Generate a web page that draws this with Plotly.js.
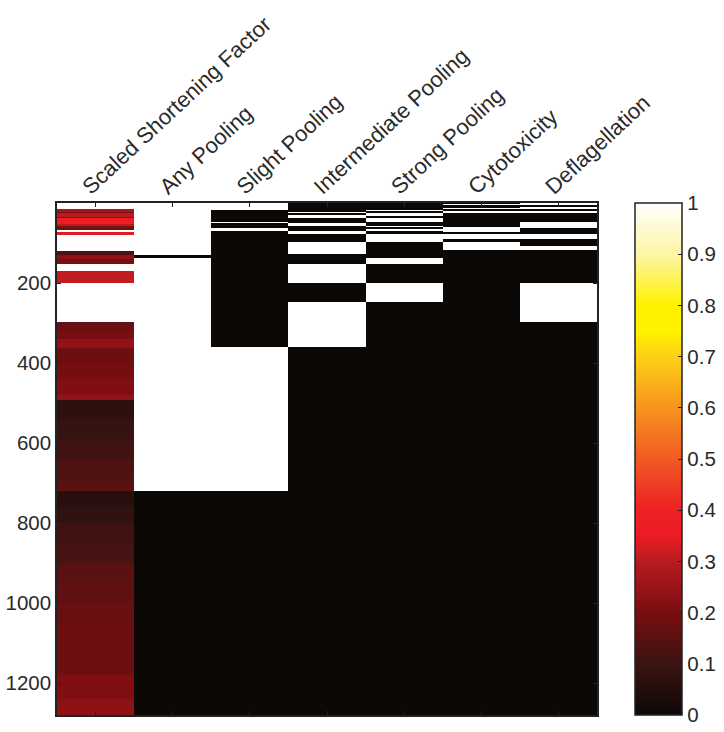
<!DOCTYPE html>
<html>
<head>
<meta charset="utf-8">
<script src="https://cdn.plot.ly/plotly-3.0.1.min.js"></script>
<style>body{margin:0;background:#fff}</style>
</head>
<body>
<div id="plot" style="width:724px;height:732px"></div>
<script>
var columnNames = ["Scaled Shortening Factor", "Any Pooling", "Slight Pooling", "Intermediate Pooling", "Strong Pooling", "Cytotoxicity", "Deflagellation"];
var rowTicks = [200, 400, 600, 800, 1000, 1200];
var barTicks = [0, 0.1, 0.2, 0.3, 0.4, 0.5, 0.6, 0.7, 0.8, 0.9, 1];
var rowCount = 1280;

// each column: where a band ends (row number) and the value of that band
var scaledEnds = [15, 23, 26, 34, 38, 47, 52, 58, 68, 72, 79, 119, 129, 140, 152, 170, 199, 298, 320, 340, 362, 400, 440, 480, 492, 540, 590, 640, 690, 719, 760, 800, 850, 900, 950, 1000, 1060, 1120, 1180, 1240, 1280];
var scaledVals = [1, 0.27, 0.2, 0.3, 0.22, 0.36, 0.38, 0.3, 0.2, 1, 0.34, 1, 0.13, 0.23, 0.2, 1, 0.31, 1, 0.17, 0.2, 0.24, 0.18, 0.19, 0.21, 0.24, 0.07, 0.09, 0.11, 0.13, 0.15, 0.06, 0.08, 0.11, 0.12, 0.15, 0.16, 0.17, 0.18, 0.18, 0.21, 0.23];
var anyEnds = [129, 138, 720, 1280];
var anyVals = [1, 0, 1, 0];
var slightEnds = [17, 47, 50, 62, 69, 360, 720, 1280];
var slightVals = [1, 0, 1, 0, 1, 0, 1, 0];
var intermediateEnds = [22, 24, 30, 38, 51, 58, 69, 78, 98, 128, 152, 200, 247, 360, 1280];
var intermediateVals = [0, 1, 0, 1, 0, 1, 0, 1, 0, 1, 0, 1, 0, 1, 0];
var strongEnds = [18, 19, 20, 21, 22, 23, 24, 25, 26, 32, 38, 48, 58, 61, 66, 69, 78, 98, 138, 152, 200, 247, 1280];
var strongVals = [0, 1, 0, 1, 0, 1, 0, 1, 0, 1, 0, 1, 0, 1, 0, 1, 0, 1, 0, 1, 0, 1, 0];
var cytoEnds = [3, 6, 12, 15, 20, 24, 61, 72, 78, 89, 98, 118, 1280];
var cytoVals = [0, 1, 0, 1, 0, 1, 0, 1, 0, 1, 0, 1, 0];
var deflagEnds = [1, 2, 3, 4, 5, 6, 7, 8, 9, 10, 11, 12, 15, 20, 24, 27, 48, 62, 78, 90, 107, 118, 200, 298, 1280];
var deflagVals = [0, 1, 0, 1, 0, 1, 0, 1, 0, 1, 0, 1, 1, 0, 1, 0, 0, 1, 0, 1, 0, 1, 0, 1, 0];

var hotScale = [
    [0, "#0c0806"], [0.1, "#3a1412"], [0.2, "#7a0d10"], [0.3, "#b71c20"], [0.35, "#ed1c24"],
    [0.4, "#ed2024"], [0.5, "#f15a24"], [0.6, "#f7941d"], [0.7, "#fdd017"], [0.75, "#fff200"],
    [0.8, "#fff200"], [0.9, "#fdf5a6"], [1, "#ffffff"]
];

function expand(ends, vals) {
    var out = [], k = 0;
    for (var r = 0; r < rowCount; r++) {
        while (r >= ends[k]) k++;
        out.push(vals[k]);
    }
    return out;
}

var columns = [
    expand(scaledEnds, scaledVals), expand(anyEnds, anyVals), expand(slightEnds, slightVals),
    expand(intermediateEnds, intermediateVals), expand(strongEnds, strongVals),
    expand(cytoEnds, cytoVals), expand(deflagEnds, deflagVals)
];
var z = [], rows = [];
for (var r = 0; r < rowCount; r++) {
    rows.push(r + 0.5);
    z.push(columns.map(c => c[r]));
}

var axisFont = {family: "Liberation Sans, Arial, sans-serif", size: 20.5, color: "#2a2a2a"};
var labelFont = {family: "Liberation Sans, Arial, sans-serif", size: 22, color: "#2a2a2a"};

var trace = {
    type: "heatmap",
    z: z,
    x: [0, 1, 2, 3, 4, 5, 6],
    y: rows,
    zmin: 0,
    zmax: 1,
    colorscale: hotScale,
    hoverinfo: "skip",
    colorbar: {
        x: 635 / 724,
        xanchor: "left",
        xpad: 0,
        ypad: 0,
        y: (17 + 256) / 732,
        yanchor: "middle",
        len: 512 / 732,
        thickness: 47,
        outlinecolor: "#222",
        outlinewidth: 1.5,
        tickvals: barTicks,
        ticks: "inside",
        ticklen: 4,
        tickcolor: "#222",
        tickfont: axisFont
    }
};
var layout = {
    width: 724,
    height: 732,
    margin: {l: 0, r: 0, t: 0, b: 0},
    paper_bgcolor: "#fff",
    plot_bgcolor: "#fff",
    font: axisFont,
    xaxis: {
        domain: [57 / 724, 597 / 724],
        side: "top",
        range: [-0.5, 6.5],
        tickvals: [0, 1, 2, 3, 4, 5, 6],
        ticktext: columnNames,
        tickangle: -43,
        tickfont: labelFont,
        ticklabelshift: -12,
        ticklabelstandoff: -6,
        ticks: "inside",
        ticklen: 4,
        tickcolor: "#222",
        showgrid: false,
        zeroline: false,
        showline: true,
        linecolor: "#222",
        linewidth: 1.5,
        mirror: "ticks"
    },
    yaxis: {
        domain: [17 / 732, 529 / 732],
        range: [1280, 0],
        tickvals: rowTicks,
        ticks: "inside",
        ticklen: 4,
        tickcolor: "#222",
        showgrid: false,
        zeroline: false,
        showline: true,
        linecolor: "#222",
        linewidth: 1.5,
        mirror: "ticks"
    }
};
Plotly.newPlot("plot", [trace], layout, {displayModeBar: false});
</script>
</body>
</html>
